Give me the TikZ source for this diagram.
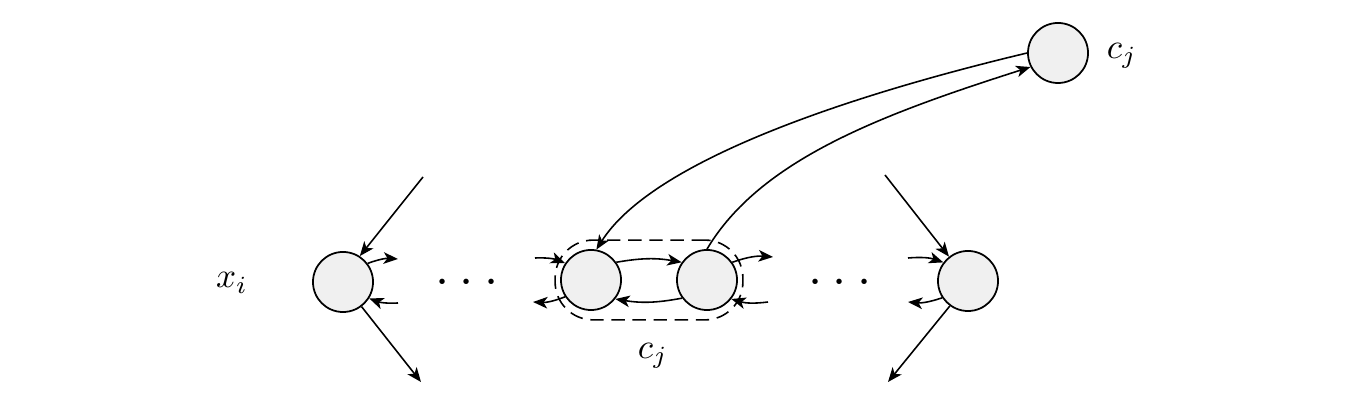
\documentclass[tikz,border=0pt]{standalone}
\usetikzlibrary{arrows.meta,fit}
\begin{document}
\begin{tikzpicture}[x=0.01cm,y=-0.01cm,
  vert/.style={circle,draw,line width=0.5pt,fill=gray!12,minimum size=0.6cm,inner sep=0pt},
  arr/.style={-{Stealth[length=4.1pt,width=3.3pt,inset=1.1pt]},line width=0.45pt},
  lbl/.style={inner sep=0pt},
  dotsl/.style={inner sep=0pt,font=\fontsize{14}{16}\selectfont},
  grp/.style={draw,dash pattern=on 3.8pt off 2.2pt,line width=0.45pt,rounded corners=0.38cm,inner xsep=0.05cm,inner ysep=0.09cm}]
\useasboundingbox (0,0) rectangle (1351,404);
% nodes
\node[vert] (A) at (343,282) {};
\node[vert] (B) at (591,280) {};
\node[vert] (C) at (707,280) {};
\node[vert] (D) at (968,281) {};
\node[vert] (E) at (1058,53) {};
\node[grp,fit=(B)(C)] (G) {};
% labels
\node[lbl] (lx) at (232,283) {$x_i$};
\node[lbl] (lc1) at (653,356) {$c_j$};
\node[lbl] (lc2) at (1122,56) {$c_j$};
\node[dotsl] (d1) at (467,283) {$\mathord{\cdot}\hspace{3.1pt}\mathord{\cdot}\hspace{3.1pt}\mathord{\cdot}$};
\node[dotsl] (d2) at (840,283) {$\mathord{\cdot}\hspace{3.1pt}\mathord{\cdot}\hspace{3.1pt}\mathord{\cdot}$};
% free ends
\coordinate (a1) at (423,177);
\coordinate (a2) at (421,382);
\coordinate (a3) at (398,259);
\coordinate (a4) at (398,303);
\coordinate (b1) at (535,258);
\coordinate (b2) at (533,302);
\coordinate (c1) at (773,257);
\coordinate (c2) at (768,302);
\coordinate (e1) at (885,175);
\coordinate (e2) at (908,258);
\coordinate (e3) at (908,302);
\coordinate (e4) at (888,382);
% A
\draw[arr] (a1) -- (A.57);
\draw[arr] (A.-53) -- (a2);
\draw[arr] (A.37) to[bend left=12] (a3);
\draw[arr] (a4) to[bend left=12] (A.-32);
% B, C
\draw[arr] (b1) to[bend left=12] (B.147);
\draw[arr] (B.213) to[bend left=12] (b2);
\draw[arr] (B.35) to[bend left=10] (C.145);
\draw[arr] (C.216) to[bend left=10] (B.-38);
\draw[arr] (C.35) to[bend left=12] (c1);
\draw[arr] (c2) to[bend left=12] (C.-38);
% D
\draw[arr] (e1) -- (D.128);
\draw[arr] (e2) to[bend left=12] (D.143);
\draw[arr] (D.213) to[bend left=12] (e3);
\draw[arr] (D.234) -- (e4);
% long curves
\draw[arr] (E.180) .. controls (830,100) and (650,165) .. (B.80);
\draw[arr] (C.90) .. controls (760,160) and (880,115) .. (E.207);
\end{tikzpicture}
\end{document}
